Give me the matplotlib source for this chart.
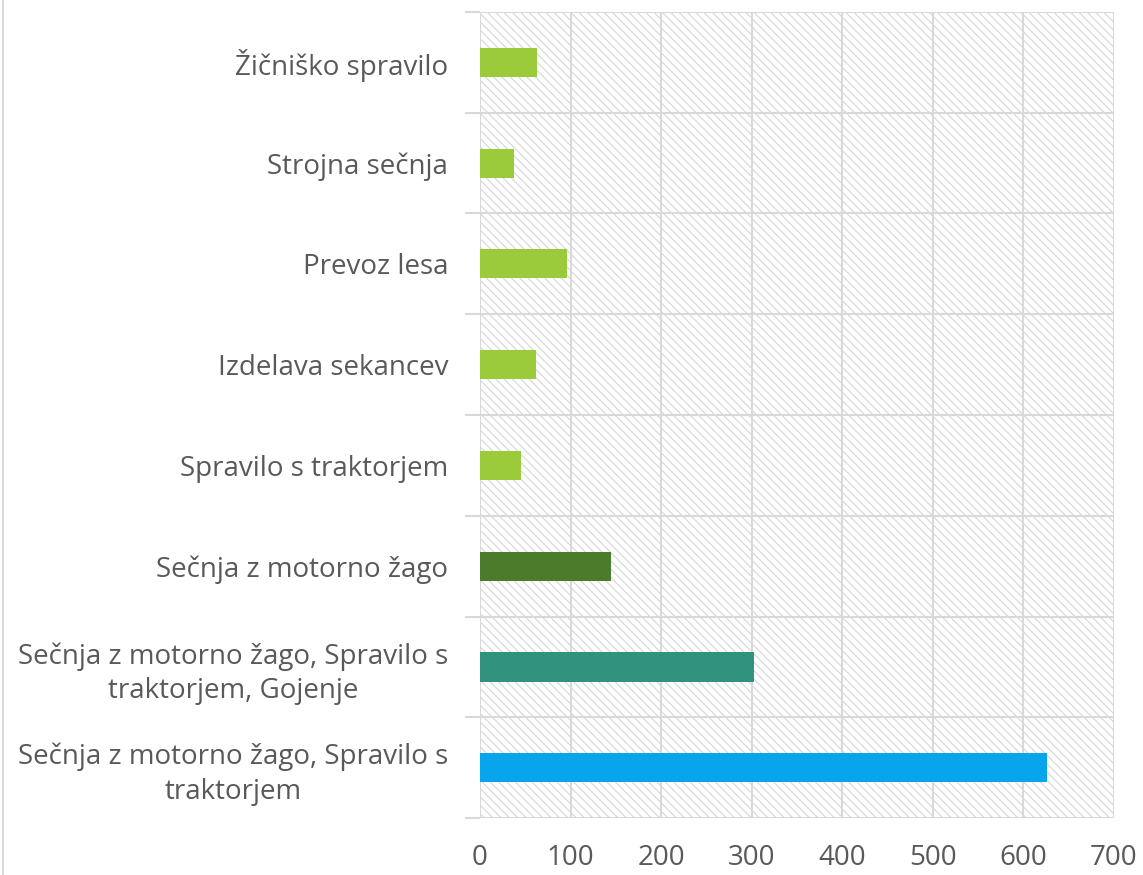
import numpy as np
import matplotlib
matplotlib.use('Agg')
import matplotlib.pyplot as plt
from matplotlib.patches import Rectangle

# podatki (od spodaj navzgor)
categories = [
    'Sečnja z motorno žago, Spravilo s\ntraktorjem',
    'Sečnja z motorno žago, Spravilo s\ntraktorjem, Gojenje',
    'Sečnja z motorno žago',
    'Spravilo s traktorjem',
    'Izdelava sekancev',
    'Prevoz lesa',
    'Strojna sečnja',
    'Žičniško spravilo',
]
values = [626, 302, 145, 45, 62, 96, 38, 63]
colors = ['#09A5EC', '#31927D', '#4A7C2C', '#9BCB3B', '#9BCB3B', '#9BCB3B', '#9BCB3B', '#9BCB3B']
xticks = [0, 100, 200, 300, 400, 500, 600, 700]

plt.rcParams['font.family'] = ['Open Sans', 'DejaVu Sans']
plt.rcParams['hatch.color'] = '#D6D6D6'
plt.rcParams['hatch.linewidth'] = 0.8

fig = plt.figure(figsize=(11.43, 8.75), dpi=100)
ax = fig.add_axes([0.42, 0.0651, 0.5546, 0.9212])

y = np.arange(len(categories))

# srafirano ozadje
ax.add_patch(Rectangle((0, 0), 1, 1, transform=ax.transAxes, facecolor='white',
                       edgecolor='#D6D6D6', hatch='\\\\\\\\', linewidth=0, zorder=0))

ax.barh(y, values, height=0.29, color=colors, zorder=3)

ax.set_xlim(0, 700)
ax.set_ylim(-0.5, len(categories) - 0.5)
ax.set_xticks(xticks)
ax.set_yticks(y)
ax.set_yticks(np.arange(-0.5, len(categories)), minor=True)

ax.set_yticklabels(categories, fontsize=20, color='#595959',
                   multialignment='center', linespacing=1.3)
ax.set_xticklabels([str(v) for v in xticks], fontsize=20, color='#595959')

ax.tick_params(axis='y', which='major', length=0, pad=23)
ax.tick_params(axis='y', which='minor', length=11, width=1.5, color='#D9D9D9')
ax.tick_params(axis='x', length=0, pad=19)

ax.grid(axis='x', color='#D9D9D9', linewidth=1.5, zorder=1)
ax.grid(axis='y', which='minor', color='#D9D9D9', linewidth=1.5, zorder=1)
ax.set_axisbelow(True)
for s in ax.spines.values():
    s.set_visible(False)

# rob grafikona na levi
fig.add_artist(plt.Line2D([0.003, 0.003], [0, 1], color='#D9D9D9', linewidth=1.5))

fig.savefig('out.png', dpi=100)
